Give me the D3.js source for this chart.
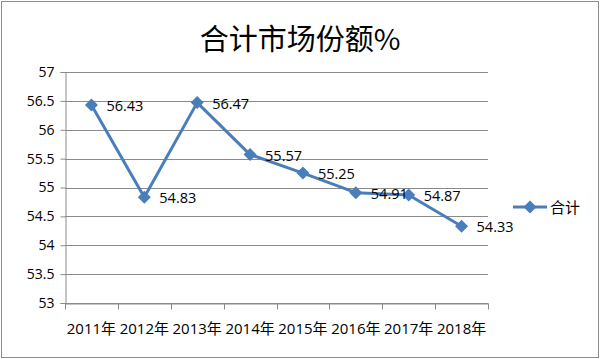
<!DOCTYPE html>
<html><head><meta charset="utf-8">
<script src="https://cdn.jsdelivr.net/npm/d3@7"></script>
<style>body{margin:0;background:#fff}svg{display:block}</style>
</head><body>
<script>
const categories = ["2011年","2012年","2013年","2014年","2015年","2016年","2017年","2018年"];
const values = [56.43,54.83,56.47,55.57,55.25,54.91,54.87,54.33];
const yTicks = [53,53.5,54,54.5,55,55.5,56,56.5,57];
const seriesName = "合计";
const title = "合计市场份额%";

const W=600,H=359;
const cjk = "'Open Sans', 'Noto Sans CJK SC', sans-serif";
const num = "'Open Sans', sans-serif";
const svg = d3.select("body").append("svg").attr("width",W).attr("height",H);
svg.append("rect").attr("x",1.5).attr("y",1.5).attr("width",W-3).attr("height",H-3)
  .attr("fill","#fff").attr("stroke","#8c8c8c").attr("stroke-width",1);

const L=65,R=488,T=72,B=303;
const x = d3.scaleBand().domain(categories).range([L,R]);
const y = d3.scaleLinear().domain([53,57]).range([B,T]);

svg.append("text").attr("x",300).attr("y",50).attr("text-anchor","middle")
  .attr("font-family","'Noto Sans CJK SC', sans-serif").attr("font-size",29).attr("fill","#000").text(title);

svg.append("g").selectAll("line").data(yTicks).join("line")
  .attr("x1",L).attr("x2",R).attr("y1",d=>Math.round(y(d))+0.5).attr("y2",d=>Math.round(y(d))+0.5)
  .attr("stroke","#8a8a8a").attr("stroke-width",1);

const ya = svg.append("g").attr("transform",`translate(${L+0.5},0)`)
  .call(d3.axisLeft(y).tickValues(yTicks).tickSize(5).tickPadding(6).tickFormat(d=>d));
ya.select(".domain").attr("stroke","#8a8a8a");
ya.selectAll(".tick line").attr("stroke","#8a8a8a");
ya.selectAll("text").attr("font-family",num).attr("font-size",14).attr("fill","#000");

const xa = svg.append("g").attr("transform",`translate(0,${B+0.5})`)
  .call(d3.axisBottom(x).tickSize(0).tickPadding(20));
xa.select(".domain").attr("stroke","#8a8a8a");
xa.selectAll(".tick line").remove();
xa.selectAll("text").attr("font-family",cjk).attr("font-size",15).attr("fill","#000");
const bounds = categories.map(c=>x(c)).concat([R]);
xa.selectAll(".tk").data(bounds).join("line").attr("class","tk")
  .attr("x1",d=>Math.round(d)+0.5).attr("x2",d=>Math.round(d)+0.5).attr("y1",0).attr("y2",6)
  .attr("stroke","#8a8a8a");

const cx = d=>x(d)+x.bandwidth()/2;
const color="#4a7ebb";
const line = d3.line().x((d,i)=>cx(categories[i])).y(d=>y(d));
svg.append("path").datum(values).attr("d",line).attr("fill","none")
  .attr("stroke",color).attr("stroke-width",3).attr("stroke-linejoin","round");
const dm = "M0,-6.5L6.5,0L0,6.5L-6.5,0Z";
svg.append("g").selectAll("path").data(values).join("path")
  .attr("transform",(d,i)=>`translate(${cx(categories[i])},${y(d)})`)
  .attr("d",dm).attr("fill",color);
svg.append("g").selectAll("text").data(values).join("text")
  .attr("x",(d,i)=>cx(categories[i])+15).attr("y",d=>y(d)+6)
  .attr("font-family",num).attr("font-size",14.5).attr("fill","#000")
  .text(d=>d.toFixed(2));

svg.append("line").attr("x1",513).attr("x2",547).attr("y1",207).attr("y2",207)
  .attr("stroke",color).attr("stroke-width",3);
svg.append("path").attr("transform","translate(530,207)").attr("d",dm).attr("fill",color);
svg.append("text").attr("x",550).attr("y",213).attr("font-family","'Noto Sans CJK SC', sans-serif").attr("font-size",15).attr("fill","#000").text(seriesName);
</script>
</body></html>
